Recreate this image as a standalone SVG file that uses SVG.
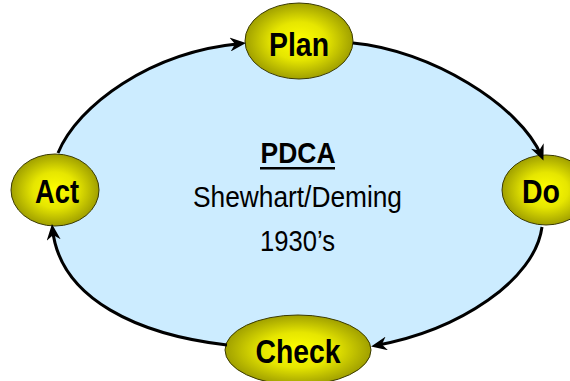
<svg xmlns="http://www.w3.org/2000/svg" width="570" height="381" viewBox="0 0 570 381">
  <style>
    .node { stroke: #3a3a00; stroke-width: 1; fill: url(#yel); }
    .lbl { font-family: "Liberation Sans", Arial, sans-serif; font-weight: bold; font-size: 33px; fill: #000; text-anchor: middle; }
    .ctr { font-family: "Liberation Sans", Arial, sans-serif; font-size: 30px; fill: #000; text-anchor: middle; }
    .conn { fill: none; stroke: #000; stroke-width: 3; marker-end: url(#arr); }
  </style>
  <defs>
    <radialGradient id="yel" cx="50%" cy="50%" r="50%">
      <stop offset="0" stop-color="#ffff00"/>
      <stop offset="0.5" stop-color="#e6e600"/>
      <stop offset="1" stop-color="#a0a000"/>
    </radialGradient>
    <marker id="arr" markerUnits="userSpaceOnUse" viewBox="0 0 16 14" markerWidth="16" markerHeight="14" refX="11" refY="7" orient="auto">
      <path d="M0,0 L16,7 L0,14 L5,7 Z" fill="#000"/>
    </marker>
  </defs>

  <path id="cycle-fill" d="M58,153 C78,105 150,52 245,43 L353,43 C430,50 520,105 543,160 L542,227 C535,280 460,330 372,346 L227,345 C140,335 60,300 52,225 Z" fill="#ccecff" stroke="none"/>

  <g id="node-plan">
    <ellipse class="node" cx="299" cy="41" rx="54" ry="38"/>
    <text class="lbl" x="299" y="56" textLength="60" lengthAdjust="spacingAndGlyphs">Plan</text>
  </g>
  <g id="node-do">
    <ellipse class="node" cx="546" cy="190" rx="44" ry="35"/>
    <text class="lbl" x="541" y="203" textLength="38" lengthAdjust="spacingAndGlyphs">Do</text>
  </g>
  <g id="node-check">
    <ellipse class="node" cx="298" cy="350" rx="73" ry="35"/>
    <text class="lbl" x="298" y="363" textLength="85" lengthAdjust="spacingAndGlyphs">Check</text>
  </g>
  <g id="node-act">
    <ellipse class="node" cx="55" cy="190" rx="44" ry="36"/>
    <text class="lbl" x="57" y="203" textLength="44" lengthAdjust="spacingAndGlyphs">Act</text>
  </g>

  <g id="center-label">
    <text class="ctr" x="298" y="163" font-weight="bold" font-size="28" textLength="75" lengthAdjust="spacingAndGlyphs">PDCA</text>
    <rect x="260" y="167" width="75" height="2.5" fill="#000"/>
    <text class="ctr" x="297.5" y="207" textLength="209" lengthAdjust="spacingAndGlyphs">Shewhart/Deming</text>
    <text class="ctr" x="297.5" y="251" textLength="75" lengthAdjust="spacingAndGlyphs">1930’s</text>
  </g>

  <g id="connectors">
    <path class="conn" d="M58,153 C78,105 150,52 241,43.5"/>
    <path class="conn" d="M353,43 C430,50 520,105 541.5,156"/>
    <path class="conn" d="M542,227 C535,280 460,330 376,345.5"/>
    <path class="conn" d="M227,345 C140,335 60,300 52.5,229"/>
  </g>
</svg>
